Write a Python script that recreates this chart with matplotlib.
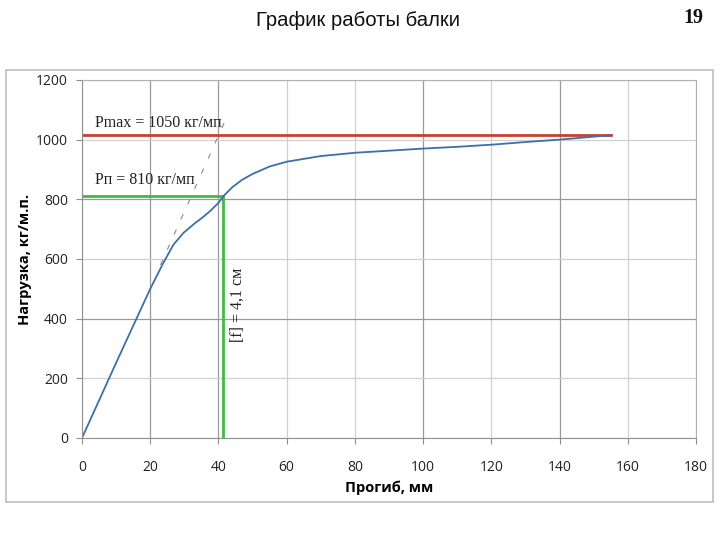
import matplotlib.pyplot as plt
from matplotlib.patches import Rectangle

# Curve: load vs deflection
deflection = [0, 10, 20, 23.8, 26.8, 29.7, 33.1, 35.1, 37.5, 40, 41.4, 44, 47, 50, 55,
              60, 70, 80, 90, 100, 110, 120, 130, 140, 150, 155]
load = [0, 252, 500, 586, 648, 687, 720, 737, 760, 788, 810, 840, 866, 885, 910,
        926, 945, 956, 963, 970, 976, 983, 992, 1000, 1010, 1015]

# Limit lines
p_max = 1015
p_max_end = 155
p_n = 810
f_lim = 41.4

# Tangent (elastic part continuation)
tangent_x = [23, 43]
tangent_y = [580, 1090]

x_ticks = list(range(0, 181, 20))
y_ticks = list(range(0, 1201, 200))

fig = plt.figure(figsize=(7.2, 5.4), dpi=100)
ax = fig.add_axes([0.1139, 0.1889, 0.8528, 0.663])

# outer chart frame
fig.patches.append(Rectangle((0.0083, 0.0704), 0.982, 0.8, transform=fig.transFigure,
                             fill=False, edgecolor="#bdbdbd", linewidth=1.2))

ax.set_xlim(0, 180)
ax.set_ylim(0, 1200)
ax.set_xticks(x_ticks)
ax.set_yticks(y_ticks)
ax.grid(True, color="#b8b8b8", linewidth=0.9)
gx = ax.get_xgridlines()
gy = ax.get_ygridlines()
for i, g in enumerate(gx):
    g.set_color("#9a9a9a" if i in (1, 2, 5, 7) else "#d0d0d0")
for i, g in enumerate(gy):
    g.set_color("#9a9a9a" if i in (2, 4) else "#d0d0d0")
ax.set_axisbelow(True)
for s in ax.spines.values():
    s.set_color("#b0b0b0")
ax.spines["left"].set_color("#909090")
ax.spines["bottom"].set_color("#909090")
ax.tick_params(colors="#909090", labelcolor="#222222", length=4, labelsize=10)
ax.tick_params(axis="x", pad=12)
ax.tick_params(axis="y", pad=6)
for lab in ax.get_xticklabels() + ax.get_yticklabels():
    lab.set_family("Open Sans")

ax.plot(tangent_x, tangent_y, color="#8a8a8a", linewidth=0.8, dashes=(5, 10))
ax.plot([0, p_max_end], [p_max, p_max], color="#c9402f", linewidth=2)
ax.plot([0, f_lim, f_lim], [p_n, p_n, 0], color="#3dbb45", linewidth=2)
ax.plot(deflection, load, color="#3d6fa8", linewidth=1.3)

ax.text(3.8, 1057, "Pmax = 1050 кг/мп", fontsize=11.5, family="Liberation Serif",
        va="center", ha="left", color="#222222")
ax.text(3.8, 866, "Рп = 810 кг/мп", fontsize=11.5, family="Liberation Serif",
        va="center", ha="left", color="#222222")
ax.text(45.5, 446, "[f] = 4,1 см", fontsize=11.5, family="Liberation Serif",
        rotation=90, va="center", ha="center", color="#222222")

ax.set_xlabel("Прогиб, мм", fontsize=10.5, fontweight="bold", family="Open Sans", labelpad=4)
ax.set_ylabel("Нагрузка, кг/м.п.", fontsize=10.5, fontweight="bold", family="Open Sans", labelpad=3)

fig.text(0.497, 0.962, "График работы балки", fontsize=14.6, family="Liberation Sans",
         ha="center", va="center", color="#111111")
fig.text(0.9625, 0.966, "19", fontsize=14.5, family="Liberation Serif", fontweight="bold",
         ha="center", va="center", color="#111111")

fig.savefig("out.png", dpi=100)
